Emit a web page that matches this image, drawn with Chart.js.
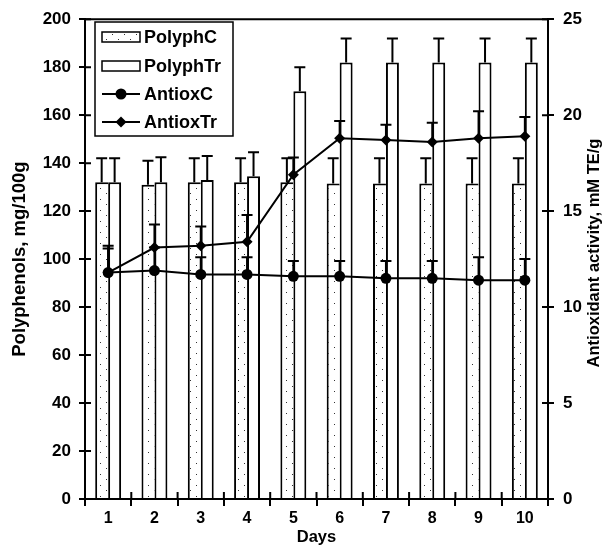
<!DOCTYPE html>
<html>
<head>
<meta charset="utf-8">
<script src="https://cdn.jsdelivr.net/npm/chart.js@4/dist/chart.umd.min.js"></script>
<style>
html,body{margin:0;padding:0;background:#fff;}
canvas{display:block;}
</style>
</head>
<body>
<canvas id="c" width="607" height="552"></canvas>
<script>
// ---- data ----
const days = ['1','2','3','4','5','6','7','8','9','10'];
const polyphC    = [132, 131, 132, 132, 132, 131.5, 131.5, 131.5, 131.5, 131.5];
const polyphCErr = [10, 10, 10, 10, 10, 10.5, 10.5, 10.5, 10.5, 10.5];
const polyphTr    = [132, 132, 133, 134.5, 170, 182, 182, 182, 182, 182];
const polyphTrErr = [10, 10.5, 10, 10, 10, 10, 10, 10, 10, 10];
const antioxC    = [11.8, 11.9, 11.7, 11.7, 11.6, 11.6, 11.5, 11.5, 11.4, 11.4];
const antioxCErr = [1.25, 1.2, 0.9, 0.9, 0.8, 0.8, 0.9, 0.9, 1.2, 1.1];
const antioxTr    = [11.8, 13.1, 13.2, 13.4, 16.9, 18.8, 18.7, 18.6, 18.8, 18.9];
const antioxTrErr = [1.4, 1.2, 1.0, 1.4, 0.9, 0.9, 0.8, 1.0, 1.4, 1.0];
const leftTicks = [0, 20, 40, 60, 80, 100, 120, 140, 160, 180, 200];
const rightTicks = [0, 5, 10, 15, 20, 25];
const leftTitle = 'Polyphenols, mg/100g';
const rightTitle = 'Antioxidant activity, mM TE/g';
const xTitle = 'Days';

const FONT = 'Liberation Sans, Arial, sans-serif';
Chart.defaults.font.family = FONT;
Chart.defaults.font.weight = 'bold';
Chart.defaults.font.size = 16;
Chart.defaults.color = '#000';

// sparse dotted pattern
function makePattern() {
  const p = document.createElement('canvas');
  p.width = 12; p.height = 11;
  const g = p.getContext('2d');
  g.fillStyle = '#fff'; g.fillRect(0, 0, 12, 11);
  g.fillStyle = '#333';
  g.fillRect(4, 1, 1, 1);
  g.fillRect(10, 6, 1, 1);
  return document.getElementById('c').getContext('2d').createPattern(p, 'repeat');
}
const dotPattern = makePattern();

const errors = [polyphCErr, polyphTrErr, antioxCErr, antioxTrErr];

const errorBarPlugin = {
  id: 'errbars',
  afterDatasetDraw(chart, args) {
    const i = args.index;
    const meta = args.meta;
    const ds = chart.data.datasets[i];
    const scale = chart.scales[ds.yAxisID];
    const ctx = chart.ctx;
    ctx.save();
    ctx.strokeStyle = '#000';
    ctx.lineWidth = 2;
    meta.data.forEach((el, j) => {
      const v = ds.data[j];
      const top = scale.getPixelForValue(v + errors[i][j]);
      const base = scale.getPixelForValue(v);
      const x = el.x;
      ctx.beginPath();
      ctx.moveTo(x, base); ctx.lineTo(x, top);
      ctx.moveTo(x - 5.5, top); ctx.lineTo(x + 5.5, top);
      ctx.stroke();
    });
    ctx.restore();
  }
};

const framePlugin = {
  id: 'frame',
  afterDraw(chart) {
    const ctx = chart.ctx;
    const a = chart.chartArea;
    ctx.save();
    ctx.strokeStyle = '#000';
    ctx.lineWidth = 2;
    // top frame
    ctx.beginPath();
    ctx.moveTo(a.left, a.top); ctx.lineTo(a.right, a.top);
    ctx.stroke();
    // inner tick marks
    const y = chart.scales.y, y2 = chart.scales.y2;
    ctx.beginPath();
    y.ticks.forEach((t, k) => {
      const py = y.getPixelForTick(k);
      ctx.moveTo(a.left, py); ctx.lineTo(a.left + 6, py);
    });
    y2.ticks.forEach((t, k) => {
      const py = y2.getPixelForTick(k);
      ctx.moveTo(a.right - 6, py); ctx.lineTo(a.right, py);
    });
    const n = chart.data.labels.length;
    for (let k = 0; k <= n; k++) {
      const px = a.left + (a.right - a.left) * k / n;
      ctx.moveTo(px, a.bottom - 7); ctx.lineTo(px, a.bottom);
    }
    ctx.stroke();

    // right axis title (reads bottom to top)
    ctx.save();
    ctx.translate(594, 253);
    ctx.rotate(-Math.PI / 2);
    ctx.font = 'bold 16.5px ' + FONT;
    ctx.fillStyle = '#000';
    ctx.textAlign = 'center';
    ctx.textBaseline = 'middle';
    ctx.fillText(rightTitle, 0, 0);
    ctx.restore();

    // legend
    const lx = 95, ly = 22, lw = 138, lh = 114;
    ctx.fillStyle = '#fff';
    ctx.fillRect(lx, ly, lw, lh);
    ctx.lineWidth = 1.5;
    ctx.strokeRect(lx, ly, lw, lh);
    const rows = [37, 66, 94, 122];
    const sx0 = 102, sx1 = 140;
    ctx.font = 'bold 18px ' + FONT;
    ctx.textBaseline = 'middle';
    ctx.textAlign = 'left';
    chart.data.datasets.forEach((ds, k) => {
      const ry = rows[k];
      ctx.lineWidth = 1.5;
      ctx.strokeStyle = '#000';
      if (k < 2) {
        ctx.fillStyle = ds.backgroundColor;
        ctx.fillRect(sx0, ry - 5, sx1 - sx0, 10);
        ctx.strokeRect(sx0, ry - 5, sx1 - sx0, 10);
      } else {
        ctx.lineWidth = 2;
        ctx.beginPath();
        ctx.moveTo(sx0, ry); ctx.lineTo(sx1, ry);
        ctx.stroke();
        ctx.fillStyle = '#000';
        const cx = (sx0 + sx1) / 2;
        ctx.beginPath();
        if (k === 2) {
          ctx.arc(cx, ry, 5.5, 0, Math.PI * 2);
        } else {
          ctx.moveTo(cx, ry - 5.5); ctx.lineTo(cx + 5.5, ry);
          ctx.lineTo(cx, ry + 5.5); ctx.lineTo(cx - 5.5, ry);
          ctx.closePath();
        }
        ctx.fill();
      }
      ctx.fillStyle = '#000';
      ctx.fillText(ds.label, 144, ry + 1);
    });
    ctx.restore();
  }
};

new Chart(document.getElementById('c'), {
  type: 'bar',
  data: {
    labels: days,
    datasets: [
      {
        label: 'PolyphC', data: polyphC, yAxisID: 'y', order: 2,
        backgroundColor: dotPattern, borderColor: '#000',
        borderWidth: {left: 2, top: 2, right: 0, bottom: 0}, borderSkipped: false,
        categoryPercentage: 0.56, barPercentage: 1.0
      },
      {
        label: 'PolyphTr', data: polyphTr, yAxisID: 'y', order: 2,
        backgroundColor: '#fff', borderColor: '#000',
        borderWidth: {left: 2, top: 2, right: 2, bottom: 0}, borderSkipped: false,
        categoryPercentage: 0.56, barPercentage: 1.0
      },
      {
        type: 'line', label: 'AntioxC', data: antioxC, yAxisID: 'y2', order: 1,
        borderColor: '#000', borderWidth: 2, backgroundColor: '#000',
        pointStyle: 'circle', pointRadius: 5.5, pointBorderWidth: 0,
        pointBackgroundColor: '#000', tension: 0, fill: false
      },
      {
        type: 'line', label: 'AntioxTr', data: antioxTr, yAxisID: 'y2', order: 1,
        borderColor: '#000', borderWidth: 2, backgroundColor: '#000',
        pointStyle: 'rectRot', pointRadius: 5.5, pointBorderWidth: 0,
        pointBackgroundColor: '#000', tension: 0, fill: false
      }
    ]
  },
  options: {
    responsive: false,
    devicePixelRatio: 1,
    animation: false,
    layout: {padding: {top: 16, left: 0, right: 0, bottom: 0}},
    plugins: {legend: {display: false}, tooltip: {enabled: false}},
    scales: {
      x: {
        offset: true,
        grid: {display: true, drawOnChartArea: false, offset: true, tickLength: 7, lineWidth: 2, color: '#000'},
        border: {display: true, width: 2, color: '#000'},
        ticks: {padding: 3, font: {size: 16, weight: 'bold'}, color: '#000'},
        title: {display: true, text: xTitle, font: {size: 16.5, weight: 'bold'}, color: '#000', padding: {top: 0, bottom: 5}},
        afterFit: s => { s.height = 53; }
      },
      y: {
        position: 'left', min: 0, max: 200,
        afterBuildTicks: s => { s.ticks = leftTicks.map(v => ({value: v})); },
        grid: {display: true, drawOnChartArea: false, tickLength: 6, lineWidth: 2, color: '#000'},
        border: {display: true, width: 2, color: '#000'},
        ticks: {padding: 8, font: {size: 17, weight: 'bold'}, color: '#000'},
        title: {display: true, text: leftTitle, font: {size: 18.5, weight: 'bold'}, color: '#000', padding: {top: 9, bottom: 0}},
        afterFit: s => { s.width = 85; }
      },
      y2: {
        position: 'right', min: 0, max: 25,
        afterBuildTicks: s => { s.ticks = rightTicks.map(v => ({value: v})); },
        grid: {display: true, drawOnChartArea: false, tickLength: 6, lineWidth: 2, color: '#000'},
        border: {display: true, width: 2, color: '#000'},
        ticks: {padding: 9, font: {size: 17, weight: 'bold'}, color: '#000'},
        title: {display: false, text: rightTitle},
        afterFit: s => { s.width = 59; }
      }
    }
  },
  plugins: [errorBarPlugin, framePlugin]
});
</script>
</body>
</html>
